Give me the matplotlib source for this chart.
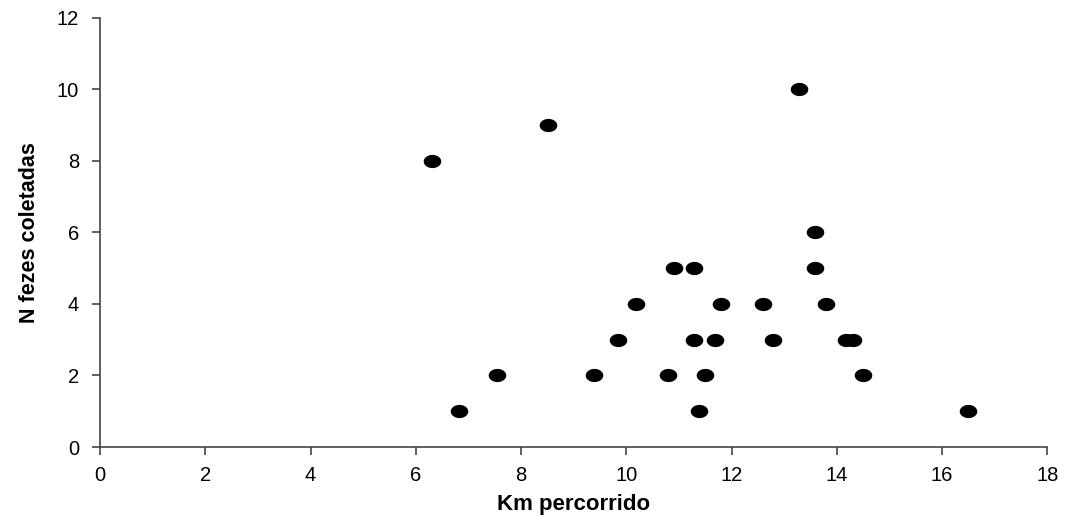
import numpy as np
import matplotlib
matplotlib.use("Agg")
import matplotlib.pyplot as plt
from matplotlib.path import Path

# Km percorrido vs N fezes coletadas
km = [6.3, 6.82, 7.54, 8.52, 9.39, 9.85, 10.19, 10.79, 10.9, 11.29,
      11.29, 11.39, 11.49, 11.69, 11.79, 12.59, 12.79, 13.29, 13.59, 13.59,
      13.8, 14.18, 14.31, 14.49, 16.5]
fezes = [8, 1, 2, 9, 2, 3, 4, 2, 5, 5,
         3, 1, 2, 3, 4, 4, 3, 10, 6, 5,
         4, 3, 3, 2, 1]

plt.rcParams['font.family'] = ['Liberation Sans', 'DejaVu Sans']

# slightly flattened dot, like the original
t = np.linspace(0, 2 * np.pi, 60)
ellipse = Path(np.column_stack([1.33 * np.cos(t), np.sin(t)]), closed=True)

fig = plt.figure(figsize=(10.72, 5.28), dpi=100)
ax = fig.add_axes([0.0933, 0.1534, 0.8837, 0.8126])

ax.scatter(km, fezes, marker=ellipse, s=160, color='black', linewidths=0, zorder=3)

ax.set_xlim(0, 18)
ax.set_ylim(0, 12)
ax.set_xticks(np.arange(0, 19, 2))
ax.set_yticks(np.arange(0, 13, 2))

for side in ['top', 'right']:
    ax.spines[side].set_visible(False)
for side in ['left', 'bottom']:
    ax.spines[side].set_color('#444444')
    ax.spines[side].set_linewidth(1.2)

ax.tick_params(axis='both', direction='out', length=6, width=1.2, color='#444444',
               labelsize=14.5, labelcolor='black')
ax.tick_params(axis='x', pad=8)
ax.tick_params(axis='y', pad=9)

ax.set_xlabel('Km percorrido', fontsize=16, fontweight='bold', labelpad=6)
ax.set_ylabel('N fezes coletadas', fontsize=15.5, fontweight='bold', labelpad=12)

fig.savefig('out.png', dpi=100)
